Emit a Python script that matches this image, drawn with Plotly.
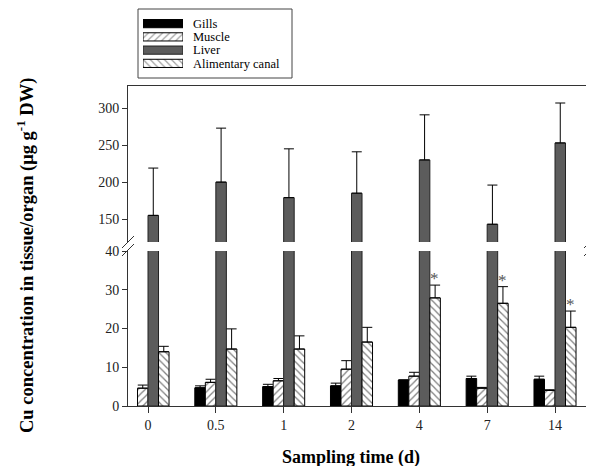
import plotly.graph_objects as go

times = ["0", "0.5", "1", "2", "4", "7", "14"]
gills = [None, 4.7, 5.0, 5.2, 6.7, 7.1, 6.9]
gills_err = [0, 0.5, 0.6, 0.7, 0.0, 0.6, 0.8]
muscle = [4.6, 6.1, 6.5, 9.5, 7.7, 4.6, 4.0]
muscle_err = [0.8, 0.8, 0.6, 2.2, 1.0, 0.2, 0.2]
liver = [155, 200, 179, 185, 230, 143, 253]
liver_err = [64, 73, 66, 56, 61, 53, 54]
alim = [14.0, 14.7, 14.7, 16.5, 27.9, 26.5, 20.3]
alim_err = [1.4, 5.2, 3.4, 3.8, 3.3, 4.3, 4.2]
signif = [False, False, False, False, True, True, True]
names = ["Gills", "Muscle", "Liver", "Alimentary canal"]

SERIF = "Liberation Serif"
W, H = 594, 466
OFF = 8  # page body margin of the browser
L, R, T, B = 120, 12, 0, 68
PW, PH = W - L - R, H - T - B


def px(x):
    """page x pixel -> paper fraction"""
    return (x - OFF - L) / PW


def py(y):
    """page y pixel -> paper fraction"""
    return (H - B - (y - OFF)) / PH


fills = ["black", "white", "#5c5c5c", "white"]
outlines = ["black", "black", "#222222", "black"]
hatches = ["", "/", "", "\\"]
values = [gills, muscle, liver, alim]
errors = [gills_err, muscle_err, liver_err, alim_err]

fig = go.Figure()
for xa, ya in [("x", "y"), ("x2", "y2")]:
    for name, vals, errs, fc, lc, hs in zip(names, values, errors, fills, outlines, hatches):
        marker = dict(color=fc, line=dict(color=lc, width=1))
        if hs:
            marker["pattern"] = dict(shape=hs, fgcolor="black", bgcolor="white", size=5, solidity=0.25)
        fig.add_trace(go.Bar(
            x=times, y=vals, name=name, xaxis=xa, yaxis=ya, showlegend=False, marker=marker,
            error_y=dict(type="data", array=errs, arrayminus=[0] * len(errs), symmetric=False,
                         color="black", thickness=1, width=5),
        ))

# custom legend drawn as a tiny horizontal bar chart
fig.add_trace(go.Bar(
    x=[1] * len(names), y=names, orientation="h", xaxis="x3", yaxis="y3", showlegend=False,
    hoverinfo="skip",
    marker=dict(color=fills, line=dict(color=outlines, width=1),
                pattern=dict(shape=hatches, fgcolor="black", size=5, solidity=0.25)),
))

annotations = []
for i, (v, e, s) in enumerate(zip(alim, alim_err, signif)):
    if s:
        annotations.append(dict(x=i, y=v + e, xref="x", yref="y", text="*", showarrow=False,
                                yanchor="bottom", xshift=15.5, yshift=-5,
                                font=dict(family=SERIF, size=17, color="#555")))
annotations += [
    dict(text="<b>Sampling time (d)</b>", xref="paper", yref="paper", x=px(351), y=py(457),
         xanchor="center", yanchor="middle",
         showarrow=False, font=dict(family=SERIF, size=18, color="black")),
    dict(text="<b>Cu concentration in tissue/organ (μg g<sup>-1</sup> DW)</b>", xref="paper", yref="paper",
         x=px(25), y=py(256), xanchor="center", yanchor="middle", textangle=-90, showarrow=False,
         font=dict(family=SERIF, size=18.5, color="black")),
]

shapes = [dict(type="rect", xref="paper", yref="paper", x0=px(138), x1=px(292), y0=py(78), y1=py(9),
               line=dict(color="#444", width=1), fillcolor="rgba(0,0,0,0)")]
for xc in (128, 590):
    for dy in (0, 8):
        shapes.append(dict(type="line", xref="paper", yref="paper", line=dict(color="#333", width=1),
                           x0=px(xc - 6), y0=py(248 + dy), x1=px(xc + 6), y1=py(236 + dy)))

tickfont = dict(family=SERIF, size=14, color="#222")
axline = dict(showline=True, linecolor="#333", linewidth=1, showgrid=False, zeroline=False)

fig.update_layout(
    width=W, height=H,
    margin=dict(l=L, r=R, t=T, b=B, autoexpand=False),
    paper_bgcolor="white", plot_bgcolor="white",
    barmode="group", bargap=0.38, bargroupgap=0,
    showlegend=False,
    xaxis=dict(domain=[0, 1], anchor="y", type="category", range=[-0.295, 6.516],
               ticks="outside", ticklen=6, tickcolor="#333", tickfont=tickfont, **axline),
    xaxis2=dict(domain=[0, 1], anchor="y2", matches="x", side="top", type="category",
                showticklabels=False, ticks="", **axline),
    yaxis=dict(domain=[0, py(251)], range=[0, 40], tickvals=[0, 10, 20, 30, 40],
               ticks="outside", ticklen=5, tickcolor="#333", tickfont=tickfont, mirror=True, **axline),
    yaxis2=dict(domain=[py(242), py(86)], range=[119, 330], tickvals=[150, 200, 250, 300],
                ticks="outside", ticklen=5, tickcolor="#333", tickfont=tickfont, mirror=True, **axline),
    xaxis3=dict(domain=[px(143), px(183)], anchor="y3", range=[0, 1], visible=False),
    yaxis3=dict(domain=[py(70), py(17)], anchor="x3", type="category", autorange="reversed",
                tickmode="array", tickvals=names, ticktext=names,
                side="right", showline=False, showgrid=False, zeroline=False, ticks="",
                ticklabelstandoff=9, tickfont=dict(family=SERIF, size=12.5, color="black")),
    annotations=annotations,
    shapes=shapes,
)

fig.write_html("out.html")
